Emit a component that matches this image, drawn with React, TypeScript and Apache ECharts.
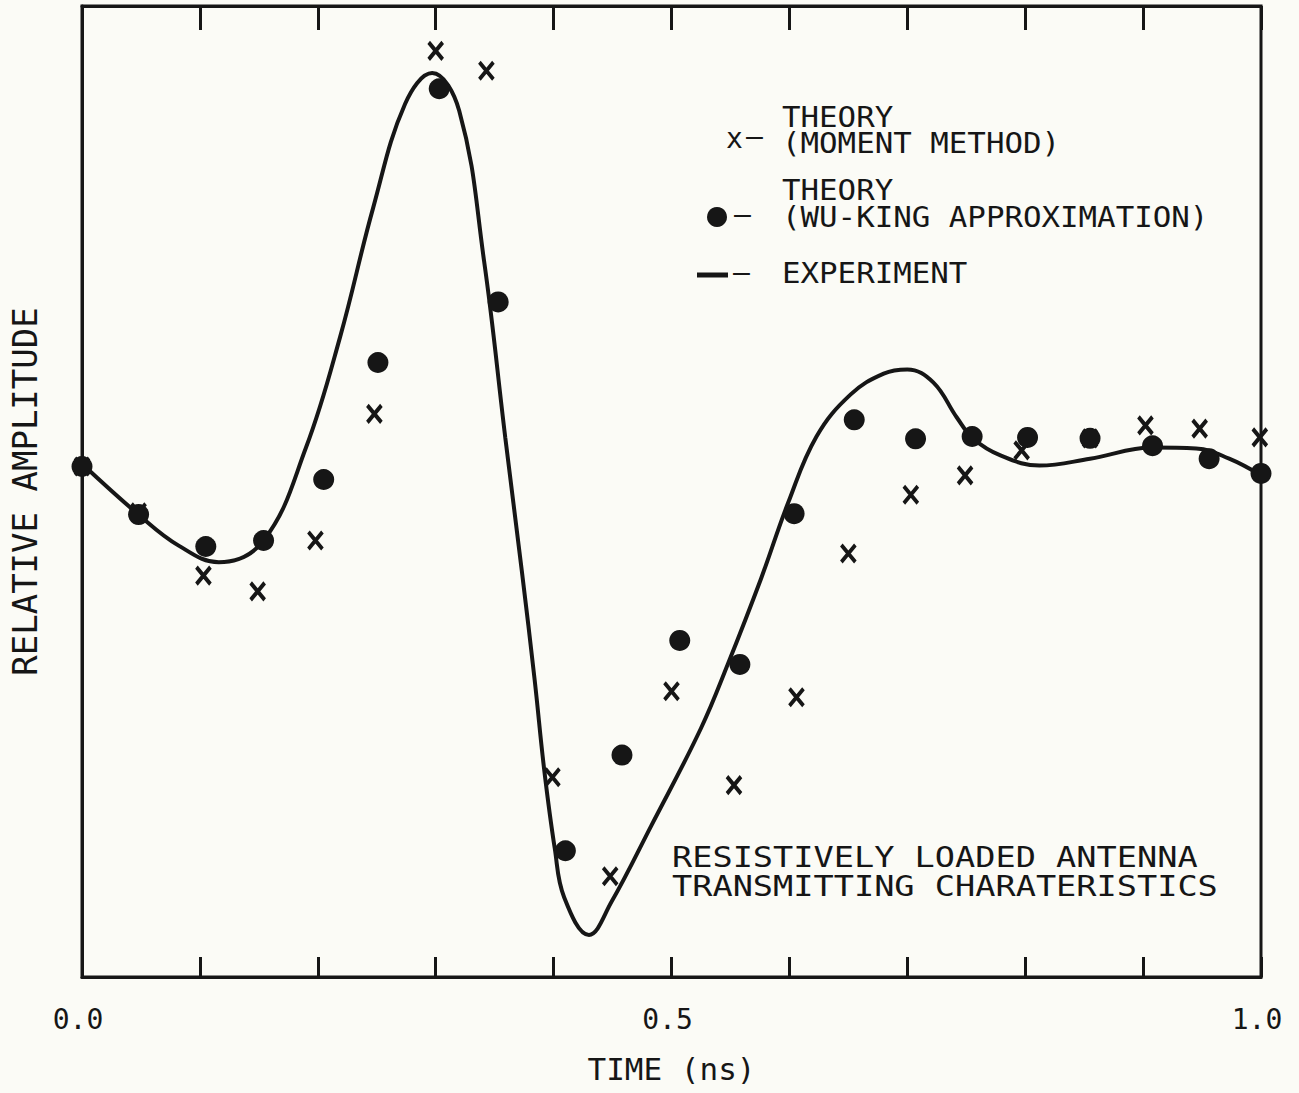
import React, { useEffect, useRef } from "react";
import * as echarts from "echarts";

// Experiment (solid curve): time (ns) and relative amplitude
const EXP_T = [0.0, 0.048, 0.082, 0.116, 0.154, 0.19, 0.219, 0.247, 0.274, 0.297, 0.32, 0.341, 0.359, 0.373, 0.384, 0.392, 0.401, 0.409, 0.43, 0.449, 0.483, 0.525, 0.548, 0.576, 0.599, 0.623, 0.652, 0.68, 0.7, 0.722, 0.742, 0.756, 0.779, 0.812, 0.855, 0.908, 0.945, 0.973, 1.0];
const EXP_V = [0.01, -0.1, -0.167, -0.203, -0.156, 0.045, 0.285, 0.564, 0.788, 0.855, 0.773, 0.449, 0.067, -0.221, -0.459, -0.651, -0.822, -0.928, -1.009, -0.938, -0.772, -0.562, -0.422, -0.238, -0.074, 0.069, 0.16, 0.205, 0.214, 0.186, 0.11, 0.064, 0.028, 0.006, 0.021, 0.045, 0.043, 0.021, -0.015];

// Theory (moment method): x markers
const MOM_T = [0.0, 0.048, 0.103, 0.149, 0.198, 0.248, 0.3, 0.343, 0.399, 0.448, 0.5, 0.553, 0.606, 0.65, 0.703, 0.749, 0.797, 0.855, 0.902, 0.948, 0.999];
const MOM_V = [0.004, -0.095, -0.232, -0.266, -0.156, 0.118, 0.903, 0.86, -0.668, -0.882, -0.482, -0.685, -0.495, -0.184, -0.057, -0.015, 0.039, 0.065, 0.093, 0.086, 0.067];

// Theory (Wu-King approximation): dots
const WK_T = [0.0, 0.048, 0.105, 0.154, 0.205, 0.251, 0.303, 0.353, 0.41, 0.458, 0.507, 0.558, 0.604, 0.655, 0.707, 0.755, 0.802, 0.855, 0.908, 0.956, 1.0];
const WK_V = [0.004, -0.1, -0.169, -0.156, -0.024, 0.229, 0.821, 0.36, -0.827, -0.62, -0.372, -0.424, -0.098, 0.105, 0.064, 0.069, 0.067, 0.065, 0.049, 0.021, -0.011];

const X_LABELS = [0, 0.5, 1];

const FONT = '"DejaVu Sans Mono", monospace';
const INK = "#161616";

function zip(a: number[], b: number[]) {
  return a.map((t, i) => [t, b[i]]);
}

export default function App() {
  const ref = useRef<HTMLDivElement>(null);
  useEffect(() => {
    if (!ref.current) return;
    const chart = echarts.init(ref.current, null, { renderer: "svg" });
    const txt = (text: string, x: number, y: number, size: number, sx = 1) => ({
      type: "text",
      x,
      y,
      scaleX: sx,
      style: {
        text,
        fill: INK,
        fontSize: size,
        fontFamily: FONT,
        textVerticalAlign: "top",
        verticalAlign: "top",
      },
    });
    chart.setOption({
      animation: false,
      backgroundColor: "#fbfbf6",
      grid: {
        left: 79,
        right: 38,
        top: 6,
        bottom: 116,
        show: true,
        borderColor: INK,
        borderWidth: 3,
        backgroundColor: "transparent",
      },
      xAxis: [
        {
          type: "value",
          min: 0,
          max: 1,
          interval: 0.1,
          position: "bottom",
          axisLine: { show: true, onZero: false, lineStyle: { color: INK, width: 3 } },
          axisTick: { show: true, inside: true, length: 20, lineStyle: { color: INK, width: 3 } },
          splitLine: { show: false },
          axisLabel: {
            color: INK,
            fontFamily: FONT,
            fontSize: 28,
            margin: 28,
            padding: [0, 8, 0, 0],
            formatter: (v: number) =>
              X_LABELS.some((l) => Math.abs(l - v) < 1e-6) ? v.toFixed(1) : "",
          },
          name: "TIME (ns)",
          nameLocation: "middle",
          nameGap: 76,
          nameTextStyle: { color: INK, fontFamily: FONT, fontSize: 31 },
        },
        {
          type: "value",
          min: 0,
          max: 1,
          interval: 0.1,
          position: "top",
          axisLine: { show: true, onZero: false, lineStyle: { color: INK, width: 3 } },
          axisTick: { show: true, inside: true, length: 24, lineStyle: { color: INK, width: 3 } },
          splitLine: { show: false },
          axisLabel: { show: false },
        },
      ],
      yAxis: {
        type: "value",
        min: -1.1,
        max: 1.0,
        axisLine: { show: true, onZero: false, lineStyle: { color: INK, width: 3 } },
        axisTick: { show: false },
        axisLabel: { show: false },
        splitLine: { show: false },
        name: "RELATIVE AMPLITUDE",
        nameLocation: "middle",
        nameRotate: 90,
        nameGap: 40,
        nameTextStyle: { color: INK, fontFamily: FONT, fontSize: 34 },
      },
      series: [
        {
          name: "EXPERIMENT",
          type: "line",
          data: zip(EXP_T, EXP_V),
          smooth: 0.4,
          symbol: "none",
          lineStyle: { color: INK, width: 4 },
          z: 2,
        },
        {
          name: "THEORY (MOMENT METHOD)",
          type: "scatter",
          data: zip(MOM_T, MOM_V),
          symbol: "path://M0,0L10,12M10,0L0,12",
          symbolSize: [14, 17],
          itemStyle: { color: "none", borderColor: INK, borderWidth: 4, opacity: 1 },
          z: 3,
        },
        {
          name: "THEORY (WU-KING APPROXIMATION)",
          type: "scatter",
          data: zip(WK_T, WK_V),
          symbol: "circle",
          symbolSize: 21,
          itemStyle: { color: INK, opacity: 1 },
          z: 4,
        },
      ],
      graphic: [
        txt("x", 726, 124, 28),
        txt("–", 746, 122, 28),
        txt("THEORY", 782, 103, 28, 1.1),
        txt("(MOMENT METHOD)", 782, 129, 28, 1.1),
        { type: "circle", shape: { cx: 717, cy: 217, r: 10 }, style: { fill: INK } },
        txt("–", 734, 200, 28),
        txt("THEORY", 782, 176, 28, 1.1),
        txt("(WU-KING APPROXIMATION)", 782, 203, 28, 1.1),
        { type: "line", shape: { x1: 697, y1: 275, x2: 728, y2: 275 }, style: { stroke: INK, lineWidth: 5 } },
        txt("–", 733, 258, 28),
        txt("EXPERIMENT", 782, 259, 28, 1.1),
        txt("RESISTIVELY LOADED ANTENNA", 672, 843, 28, 1.2),
        txt("TRANSMITTING CHARATERISTICS", 672, 872, 28, 1.2),
      ],
    });
    return () => chart.dispose();
  }, []);
  return (
    <div
      ref={ref}
      style={{ position: "fixed", left: 0, top: 0, width: 1299, height: 1093 }}
    />
  );
}
